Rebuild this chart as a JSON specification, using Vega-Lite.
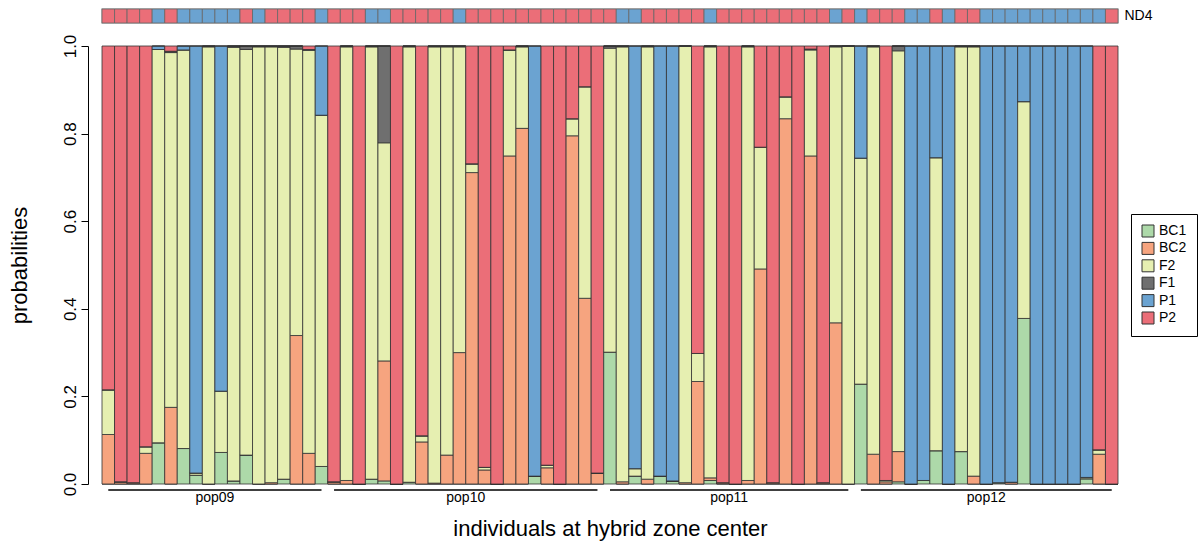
{
  "$schema": "https://vega.github.io/schema/vega-lite/v6.json",
  "padding": {"left": 8, "top": 7, "right": 5, "bottom": 5},
  "background": "white",
  "config": {
    "font": "Liberation Sans",
    "view": {"stroke": null},
    "axis": {"labelColor": "black", "titleColor": "black", "domainColor": "black", "tickColor": "black", "titleFontWeight": "normal"}
  },
  "datasets": {
    "ranks": [
      {"key": "BC1", "rank": 1}, {"key": "BC2", "rank": 2}, {"key": "F2", "rank": 3},
      {"key": "F1", "rank": 4}, {"key": "P1", "rank": 5}, {"key": "P2", "rank": 6}
    ],
    "ind": [
      {"id":1,"pop":"pop09","nd4":"P2","BC1":0,"BC2":0.113,"F2":0.102,"F1":0,"P1":0,"P2":0.785},
      {"id":2,"pop":"pop09","nd4":"P2","BC1":0,"BC2":0.005,"F2":0,"F1":0,"P1":0,"P2":0.995},
      {"id":3,"pop":"pop09","nd4":"P2","BC1":0,"BC2":0.003,"F2":0,"F1":0,"P1":0,"P2":0.997},
      {"id":4,"pop":"pop09","nd4":"P2","BC1":0,"BC2":0.07,"F2":0.015,"F1":0,"P1":0,"P2":0.915},
      {"id":5,"pop":"pop09","nd4":"P1","BC1":0.094,"BC2":0,"F2":0.898,"F1":0,"P1":0.008,"P2":0},
      {"id":6,"pop":"pop09","nd4":"P2","BC1":0,"BC2":0.175,"F2":0.81,"F1":0.003,"P1":0,"P2":0.012},
      {"id":7,"pop":"pop09","nd4":"P1","BC1":0.081,"BC2":0,"F2":0.91,"F1":0,"P1":0.009,"P2":0},
      {"id":8,"pop":"pop09","nd4":"P1","BC1":0.02,"BC2":0,"F2":0.005,"F1":0,"P1":0.975,"P2":0},
      {"id":9,"pop":"pop09","nd4":"P1","BC1":0,"BC2":0,"F2":0.998,"F1":0.002,"P1":0,"P2":0},
      {"id":10,"pop":"pop09","nd4":"P1","BC1":0.072,"BC2":0,"F2":0.14,"F1":0,"P1":0.788,"P2":0},
      {"id":11,"pop":"pop09","nd4":"P1","BC1":0.007,"BC2":0,"F2":0.99,"F1":0.003,"P1":0,"P2":0},
      {"id":12,"pop":"pop09","nd4":"P2","BC1":0.066,"BC2":0,"F2":0.926,"F1":0.008,"P1":0,"P2":0},
      {"id":13,"pop":"pop09","nd4":"P1","BC1":0,"BC2":0,"F2":0.998,"F1":0.002,"P1":0,"P2":0},
      {"id":14,"pop":"pop09","nd4":"P2","BC1":0,"BC2":0.003,"F2":0.995,"F1":0.002,"P1":0,"P2":0},
      {"id":15,"pop":"pop09","nd4":"P2","BC1":0.011,"BC2":0,"F2":0.986,"F1":0.003,"P1":0,"P2":0},
      {"id":16,"pop":"pop09","nd4":"P2","BC1":0,"BC2":0.339,"F2":0.654,"F1":0.007,"P1":0,"P2":0},
      {"id":17,"pop":"pop09","nd4":"P2","BC1":0,"BC2":0.07,"F2":0.92,"F1":0.002,"P1":0,"P2":0.008},
      {"id":18,"pop":"pop09","nd4":"P1","BC1":0.04,"BC2":0,"F2":0.802,"F1":0,"P1":0.158,"P2":0},
      {"id":19,"pop":"pop10","nd4":"P2","BC1":0,"BC2":0.005,"F2":0,"F1":0,"P1":0,"P2":0.995},
      {"id":20,"pop":"pop10","nd4":"P2","BC1":0,"BC2":0.008,"F2":0.99,"F1":0.002,"P1":0,"P2":0},
      {"id":21,"pop":"pop10","nd4":"P2","BC1":0,"BC2":0,"F2":0,"F1":0,"P1":0,"P2":1},
      {"id":22,"pop":"pop10","nd4":"P1","BC1":0.011,"BC2":0,"F2":0.987,"F1":0.002,"P1":0,"P2":0},
      {"id":23,"pop":"pop10","nd4":"P1","BC1":0.007,"BC2":0.274,"F2":0.498,"F1":0.221,"P1":0,"P2":0},
      {"id":24,"pop":"pop10","nd4":"P2","BC1":0,"BC2":0,"F2":0,"F1":0,"P1":0,"P2":1},
      {"id":25,"pop":"pop10","nd4":"P2","BC1":0.004,"BC2":0,"F2":0.994,"F1":0.002,"P1":0,"P2":0},
      {"id":26,"pop":"pop10","nd4":"P2","BC1":0,"BC2":0.096,"F2":0.014,"F1":0,"P1":0,"P2":0.89},
      {"id":27,"pop":"pop10","nd4":"P2","BC1":0,"BC2":0.002,"F2":0.996,"F1":0.002,"P1":0,"P2":0},
      {"id":28,"pop":"pop10","nd4":"P2","BC1":0,"BC2":0.066,"F2":0.932,"F1":0.002,"P1":0,"P2":0},
      {"id":29,"pop":"pop10","nd4":"P1","BC1":0,"BC2":0.3,"F2":0.698,"F1":0.002,"P1":0,"P2":0},
      {"id":30,"pop":"pop10","nd4":"P2","BC1":0,"BC2":0.711,"F2":0.02,"F1":0,"P1":0,"P2":0.269},
      {"id":31,"pop":"pop10","nd4":"P2","BC1":0,"BC2":0.032,"F2":0.006,"F1":0,"P1":0,"P2":0.962},
      {"id":32,"pop":"pop10","nd4":"P2","BC1":0,"BC2":0,"F2":0,"F1":0,"P1":0,"P2":1},
      {"id":33,"pop":"pop10","nd4":"P2","BC1":0,"BC2":0.749,"F2":0.242,"F1":0,"P1":0,"P2":0.009},
      {"id":34,"pop":"pop10","nd4":"P2","BC1":0,"BC2":0.812,"F2":0.186,"F1":0.002,"P1":0,"P2":0},
      {"id":35,"pop":"pop10","nd4":"P2","BC1":0.018,"BC2":0,"F2":0,"F1":0,"P1":0.982,"P2":0},
      {"id":36,"pop":"pop10","nd4":"P2","BC1":0,"BC2":0.037,"F2":0.006,"F1":0,"P1":0,"P2":0.957},
      {"id":37,"pop":"pop10","nd4":"P2","BC1":0,"BC2":0,"F2":0,"F1":0,"P1":0,"P2":1},
      {"id":38,"pop":"pop10","nd4":"P2","BC1":0,"BC2":0.795,"F2":0.039,"F1":0,"P1":0,"P2":0.166},
      {"id":39,"pop":"pop10","nd4":"P2","BC1":0,"BC2":0.424,"F2":0.483,"F1":0,"P1":0,"P2":0.093},
      {"id":40,"pop":"pop10","nd4":"P2","BC1":0,"BC2":0.025,"F2":0,"F1":0,"P1":0,"P2":0.975},
      {"id":41,"pop":"pop11","nd4":"P2","BC1":0.301,"BC2":0,"F2":0.694,"F1":0.005,"P1":0,"P2":0},
      {"id":42,"pop":"pop11","nd4":"P1","BC1":0,"BC2":0.005,"F2":0.993,"F1":0.002,"P1":0,"P2":0},
      {"id":43,"pop":"pop11","nd4":"P1","BC1":0.018,"BC2":0,"F2":0.017,"F1":0,"P1":0.965,"P2":0},
      {"id":44,"pop":"pop11","nd4":"P2","BC1":0,"BC2":0.011,"F2":0.987,"F1":0.002,"P1":0,"P2":0},
      {"id":45,"pop":"pop11","nd4":"P2","BC1":0.018,"BC2":0,"F2":0,"F1":0,"P1":0.982,"P2":0},
      {"id":46,"pop":"pop11","nd4":"P2","BC1":0.007,"BC2":0,"F2":0,"F1":0,"P1":0.993,"P2":0},
      {"id":47,"pop":"pop11","nd4":"P2","BC1":0,"BC2":0.003,"F2":0.997,"F1":0,"P1":0,"P2":0},
      {"id":48,"pop":"pop11","nd4":"P2","BC1":0,"BC2":0.234,"F2":0.064,"F1":0,"P1":0,"P2":0.702},
      {"id":49,"pop":"pop11","nd4":"P1","BC1":0.008,"BC2":0.006,"F2":0.984,"F1":0.002,"P1":0,"P2":0},
      {"id":50,"pop":"pop11","nd4":"P2","BC1":0,"BC2":0.003,"F2":0,"F1":0,"P1":0,"P2":0.997},
      {"id":51,"pop":"pop11","nd4":"P2","BC1":0,"BC2":0,"F2":0,"F1":0,"P1":0,"P2":1},
      {"id":52,"pop":"pop11","nd4":"P2","BC1":0,"BC2":0.008,"F2":0.99,"F1":0.002,"P1":0,"P2":0},
      {"id":53,"pop":"pop11","nd4":"P2","BC1":0,"BC2":0.491,"F2":0.278,"F1":0,"P1":0,"P2":0.231},
      {"id":54,"pop":"pop11","nd4":"P2","BC1":0,"BC2":0.003,"F2":0,"F1":0,"P1":0,"P2":0.997},
      {"id":55,"pop":"pop11","nd4":"P2","BC1":0,"BC2":0.834,"F2":0.05,"F1":0,"P1":0,"P2":0.116},
      {"id":56,"pop":"pop11","nd4":"P2","BC1":0,"BC2":0,"F2":0,"F1":0,"P1":0,"P2":1},
      {"id":57,"pop":"pop11","nd4":"P2","BC1":0,"BC2":0.749,"F2":0.242,"F1":0.002,"P1":0,"P2":0.007},
      {"id":58,"pop":"pop11","nd4":"P2","BC1":0,"BC2":0.003,"F2":0,"F1":0,"P1":0,"P2":0.997},
      {"id":59,"pop":"pop11","nd4":"P1","BC1":0,"BC2":0.368,"F2":0.63,"F1":0.002,"P1":0,"P2":0},
      {"id":60,"pop":"pop11","nd4":"P2","BC1":0,"BC2":0,"F2":1,"F1":0,"P1":0,"P2":0},
      {"id":61,"pop":"pop12","nd4":"P1","BC1":0.228,"BC2":0,"F2":0.516,"F1":0,"P1":0.256,"P2":0},
      {"id":62,"pop":"pop12","nd4":"P2","BC1":0,"BC2":0.068,"F2":0.93,"F1":0.002,"P1":0,"P2":0},
      {"id":63,"pop":"pop12","nd4":"P2","BC1":0,"BC2":0.005,"F2":0.003,"F1":0,"P1":0,"P2":0.992},
      {"id":64,"pop":"pop12","nd4":"P2","BC1":0.005,"BC2":0.069,"F2":0.915,"F1":0.011,"P1":0,"P2":0},
      {"id":65,"pop":"pop12","nd4":"P1","BC1":0,"BC2":0,"F2":0,"F1":0,"P1":1,"P2":0},
      {"id":66,"pop":"pop12","nd4":"P1","BC1":0.008,"BC2":0,"F2":0,"F1":0,"P1":0.992,"P2":0},
      {"id":67,"pop":"pop12","nd4":"P2","BC1":0.076,"BC2":0,"F2":0.669,"F1":0,"P1":0.255,"P2":0},
      {"id":68,"pop":"pop12","nd4":"P1","BC1":0,"BC2":0,"F2":0,"F1":0,"P1":1,"P2":0},
      {"id":69,"pop":"pop12","nd4":"P2","BC1":0.074,"BC2":0,"F2":0.924,"F1":0.002,"P1":0,"P2":0},
      {"id":70,"pop":"pop12","nd4":"P2","BC1":0,"BC2":0.018,"F2":0.98,"F1":0.002,"P1":0,"P2":0},
      {"id":71,"pop":"pop12","nd4":"P1","BC1":0,"BC2":0,"F2":0,"F1":0,"P1":1,"P2":0},
      {"id":72,"pop":"pop12","nd4":"P1","BC1":0.003,"BC2":0,"F2":0,"F1":0,"P1":0.997,"P2":0},
      {"id":73,"pop":"pop12","nd4":"P1","BC1":0,"BC2":0.004,"F2":0,"F1":0,"P1":0.996,"P2":0},
      {"id":74,"pop":"pop12","nd4":"P1","BC1":0.378,"BC2":0,"F2":0.495,"F1":0,"P1":0.127,"P2":0},
      {"id":75,"pop":"pop12","nd4":"P1","BC1":0,"BC2":0,"F2":0,"F1":0,"P1":1,"P2":0},
      {"id":76,"pop":"pop12","nd4":"P1","BC1":0,"BC2":0,"F2":0,"F1":0,"P1":1,"P2":0},
      {"id":77,"pop":"pop12","nd4":"P1","BC1":0,"BC2":0,"F2":0,"F1":0,"P1":1,"P2":0},
      {"id":78,"pop":"pop12","nd4":"P1","BC1":0,"BC2":0,"F2":0,"F1":0,"P1":1,"P2":0},
      {"id":79,"pop":"pop12","nd4":"P1","BC1":0.012,"BC2":0,"F2":0.003,"F1":0,"P1":0.985,"P2":0},
      {"id":80,"pop":"pop12","nd4":"P1","BC1":0,"BC2":0.068,"F2":0.01,"F1":0,"P1":0,"P2":0.922},
      {"id":81,"pop":"pop12","nd4":"P2","BC1":0,"BC2":0,"F2":0,"F1":0,"P1":0,"P2":1}
    ],
    "pops": [
      {"pop":"pop09","first":1,"last":18,"mid":10,"even":true},
      {"pop":"pop10","first":19,"last":40,"mid":30,"even":true},
      {"pop":"pop11","first":41,"last":60,"mid":51,"even":true},
      {"pop":"pop12","first":61,"last":81,"mid":71,"even":false}
    ]
  },
  "spacing": 23,
  "bounds": "flush",
  "resolve": {"legend": {"color": "independent"}},
  "vconcat": [
    {
      "width": 1016,
      "height": 14,
      "view": {"stroke": "#b0b0b0", "strokeWidth": 1.5},
      "data": {"name": "ind"},
      "mark": {"type": "bar", "stroke": "#666666", "strokeWidth": 1, "strokeOpacity": 0.8},
      "encoding": {
        "x": {"field": "id", "type": "ordinal", "axis": null, "scale": {"paddingInner": 0, "paddingOuter": 0}},
        "y": {"datum": "ND4", "type": "nominal", "scale": {"paddingInner": 0, "paddingOuter": 0},
              "axis": {"orient": "right", "domain": false, "ticks": false, "title": null, "labelFontSize": 14, "labelPadding": 6}},
        "color": {"field": "nd4", "type": "nominal", "legend": null,
                  "scale": {"domain": ["BC1","BC2","F2","F1","P1","P2"], "range": ["#ADD9A9","#F6A47F","#E6EFB1","#6F6F6F","#6BA3D1","#EB6E78"]}}
      }
    },
    {
      "width": 1016,
      "height": 438,
      "layer": [
        {
          "data": {"name": "ind"},
          "transform": [
            {"fold": ["BC1","BC2","F2","F1","P1","P2"], "as": ["key","value"]},
            {"lookup": "key", "from": {"data": {"name": "ranks"}, "key": "key", "fields": ["rank"]}}
          ],
          "mark": {"type": "bar", "stroke": "#333333", "strokeWidth": 1, "strokeOpacity": 0.8},
          "encoding": {
            "x": {"field": "id", "type": "ordinal", "scale": {"paddingInner": 0, "paddingOuter": 0},
                  "axis": {"labels": false, "ticks": false, "domain": false, "title": "individuals at hybrid zone center", "titleFontSize": 22, "titlePadding": 34}},
            "y": {"field": "value", "type": "quantitative", "stack": "zero", "scale": {"domain": [0, 1], "nice": false},
                  "axis": {"values": [0, 0.2, 0.4, 0.6, 0.8, 1.0], "format": ".1f", "offset": 14, "tickSize": 7, "labelAngle": 270,
                           "labelAlign": "center", "labelBaseline": "bottom", "labelPadding": 2, "labelFontSize": 17,
                           "title": "probabilities", "titleFontSize": 22, "titlePadding": 30, "grid": false}},
            "order": {"field": "rank", "type": "quantitative", "sort": "ascending"},
            "color": {"field": "key", "type": "nominal",
                      "scale": {"domain": ["BC1","BC2","F2","F1","P1","P2"], "range": ["#ADD9A9","#F6A47F","#E6EFB1","#6F6F6F","#6BA3D1","#EB6E78"]},
                      "legend": {"title": null, "orient": "none", "legendX": 1029, "legendY": 168, "strokeColor": "black", "padding": 10,
                                 "symbolType": "square", "symbolSize": 144, "symbolStrokeColor": "#333333", "symbolStrokeWidth": 1,
                                 "symbolOpacity": 1, "labelFontSize": 14, "rowPadding": 1.4, "fillColor": "white"}}
          }
        },
        {
          "data": {"name": "pops"},
          "mark": {"type": "rule", "strokeWidth": 1.5, "color": "black"},
          "encoding": {
            "x": {"field": "first", "type": "ordinal", "axis": {"labels": false, "ticks": false, "domain": false, "title": "individuals at hybrid zone center", "titleFontSize": 22, "titlePadding": 34}},
            "x2": {"field": "last"},
            "y": {"datum": -0.0137, "type": "quantitative", "scale": {"domain": [0, 1], "nice": false}}
          }
        },
        {
          "data": {"name": "pops"},
          "transform": [{"filter": "datum.even"}],
          "mark": {"type": "text", "fontSize": 14, "baseline": "middle", "align": "center"},
          "encoding": {
            "x": {"field": "mid", "type": "ordinal", "bandPosition": 0, "axis": {"labels": false, "ticks": false, "domain": false, "title": "individuals at hybrid zone center", "titleFontSize": 22, "titlePadding": 34}},
            "y": {"datum": -0.032, "type": "quantitative", "scale": {"domain": [0, 1], "nice": false}},
            "text": {"field": "pop"}
          }
        },
        {
          "data": {"name": "pops"},
          "transform": [{"filter": "!datum.even"}],
          "mark": {"type": "text", "fontSize": 14, "baseline": "middle", "align": "center"},
          "encoding": {
            "x": {"field": "mid", "type": "ordinal", "bandPosition": 0.5, "axis": {"labels": false, "ticks": false, "domain": false, "title": "individuals at hybrid zone center", "titleFontSize": 22, "titlePadding": 34}},
            "y": {"datum": -0.032, "type": "quantitative", "scale": {"domain": [0, 1], "nice": false}},
            "text": {"field": "pop"}
          }
        }
      ]
    }
  ]
}
